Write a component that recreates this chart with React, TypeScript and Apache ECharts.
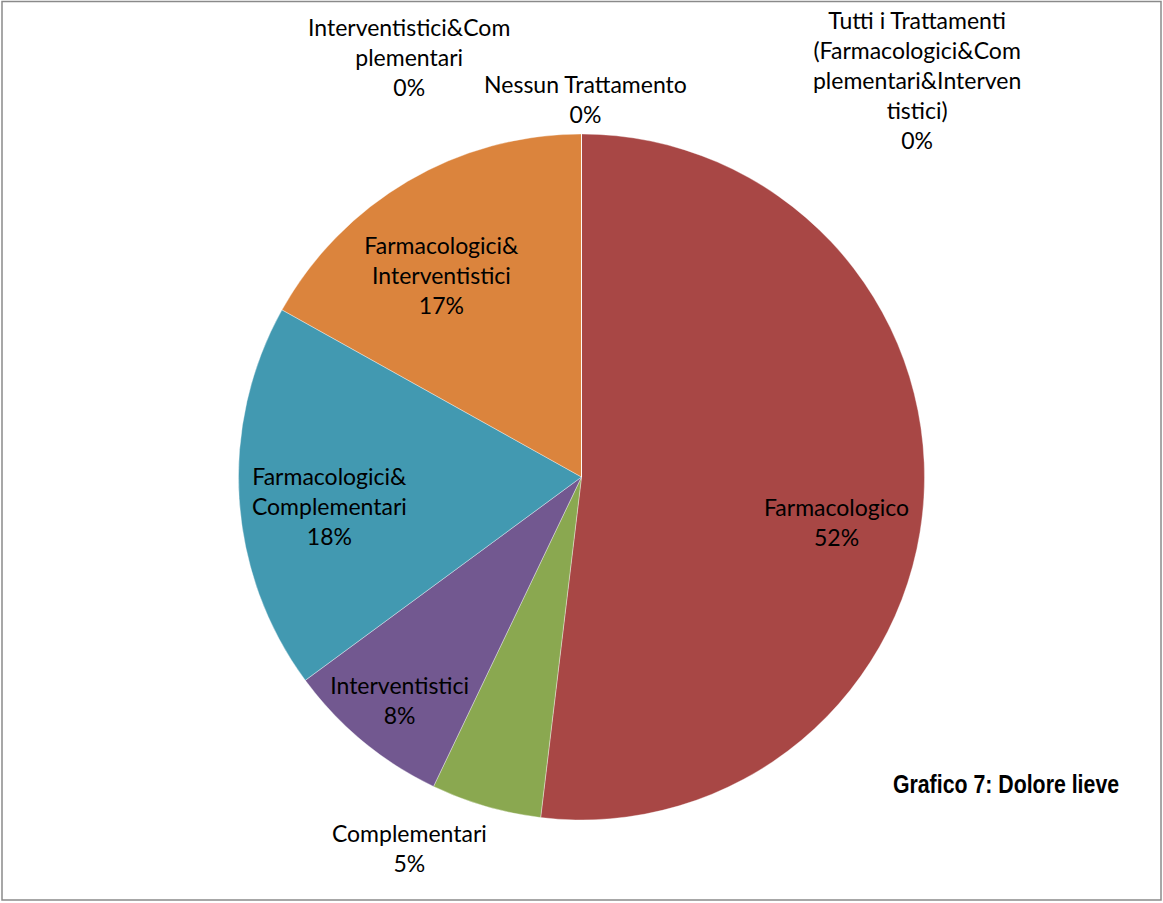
import React, { useEffect, useRef } from "react";
import * as echarts from "echarts";

// ---- Data ----
const categories = [
  "Farmacologico",
  "Complementari",
  "Interventistici",
  "Farmacologici&Complementari",
  "Farmacologici&Interventistici",
  "Interventistici&Complementari",
  "Nessun Trattamento",
  "Tutti i Trattamenti (Farmacologici&Complementari&Interventistici)",
];
const values = [51.9, 5.2, 7.8, 18.2, 16.9, 0, 0, 0];
const labelTexts = [
  "Farmacologico",
  "Complementari",
  "Interventistici",
  "Farmacologici&\nComplementari",
  "Farmacologici&\nInterventistici",
  "Interventistici&Com\nplementari",
  "Nessun Trattamento",
  "Tutti i Trattamenti\n(Farmacologici&Com\nplementari&Interven\ntistici)",
];
const titleText = "Grafico 7: Dolore lieve";

// ---- Styles ----
const colors = ["#A84745", "#8AA850", "#725890", "#4299B1", "#DB843D", "#9BBB59", "#4F81BD", "#C0504D"];
// label placement: radial factor (x radius) and angular shift (deg) from slice mid-angle
const labelRadius = [0.755, 1.192, 0.839, 0.74, 0.717, 1.324, 1.102, 1.516];
const labelShift = [6.6, 8.7, -0.4, -3, -4.3, -22.3, 0.6, 40.2];

const CX = 581.5;
const CY = 477;
const R = 343;

export default function App() {
  const ref = useRef<HTMLDivElement>(null);
  useEffect(() => {
    if (!ref.current) return;
    const chart = echarts.init(ref.current, undefined, { renderer: "svg" });
    const total = values.reduce((a, b) => a + b, 0);
    const mids: number[] = [];
    let acc = 0;
    values.forEach((v) => {
      const a0 = (acc / total) * 360;
      acc += v;
      const a1 = (acc / total) * 360;
      mids.push((a0 + a1) / 2);
    });
    chart.setOption({
      animation: false,
      backgroundColor: "#ffffff",
      graphic: [
        {
          type: "rect",
          shape: { x: 2, y: 1.5, width: 1159, height: 898.5 },
          style: { fill: "none", stroke: "#8a8a8a", lineWidth: 1.5 },
          silent: true,
        },
        {
          type: "text",
          x: 1006,
          y: 784,
          scaleX: 0.82,
          style: {
            text: titleText,
            font: "bold 26px 'Liberation Sans', Arial, sans-serif",
            fill: "#000",
            align: "center",
            verticalAlign: "middle",
          },
        },
      ],
      series: [
        {
          type: "pie",
          center: [CX, CY],
          radius: [0, R],
          startAngle: 90,
          clockwise: true,
          avoidLabelOverlap: false,
          itemStyle: { borderColor: "rgba(255,255,255,0.45)", borderWidth: 0.8 },
          label: {
            show: true,
            position: "inside",
            color: "#000",
            fontFamily: "Lato, 'Noto Sans', sans-serif",
            fontSize: 23,
            lineHeight: 30,
            align: "center",
            formatter: (p: any) => `${labelTexts[p.dataIndex]}\n${Math.round(p.percent)}%`,
          },
          labelLine: { show: false },
          labelLayout: (p: any) => {
            const i = p.dataIndex;
            const th = ((mids[i] + labelShift[i]) * Math.PI) / 180;
            const r = labelRadius[i] * R;
            return {
              x: CX + r * Math.sin(th),
              y: CY - r * Math.cos(th),
              align: "center",
              verticalAlign: "middle",
            };
          },
          emphasis: { disabled: true },
          data: categories.map((name, i) => ({
            name,
            value: values[i],
            itemStyle: { color: colors[i] },
          })),
        },
      ],
    });
    return () => chart.dispose();
  }, []);
  return (
    <div
      ref={ref}
      style={{ position: "fixed", left: 0, top: 0, width: 1163, height: 903, background: "#fff" }}
    />
  );
}
